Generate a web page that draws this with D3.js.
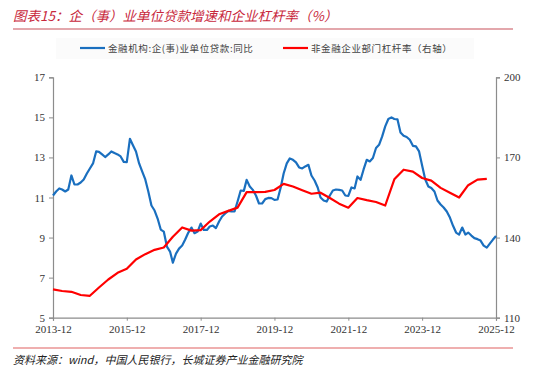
<!DOCTYPE html>
<html>
<head>
<meta charset="utf-8">
<script src="https://cdn.jsdelivr.net/npm/d3@7"></script>
<style>
  body { margin: 0; background: #fff; }
  svg { display: block; }
</style>
</head>
<body>
<div id="chart"></div>
<script>
// data
var startYear = 2013, startMonth = 12;   // first point 2013-12
var loanGrowth = [ // 金融机构:企(事)业单位贷款:同比, monthly
  11.1, 11.3, 11.45, 11.4, 11.3, 11.4, 12.1, 11.65, 11.65, 11.75, 11.9, 12.2,
  12.45, 12.7, 13.3, 13.28, 13.15, 13.02, 13.15, 13.3, 13.22, 13.15, 13.05, 12.78,
  12.77, 13.93, 13.6, 13.3, 12.7, 12.3, 11.9, 11.3, 10.6, 10.35, 9.95, 9.4,
  9.3, 8.55, 8.3, 7.75, 8.2, 8.45, 8.6, 8.9, 9.25, 9.5, 9.22, 9.3,
  9.7, 9.38, 9.38, 9.55, 9.6, 9.47, 9.8, 10.05, 10.2, 10.33, 10.3, 10.3,
  10.8, 11.35, 11.33, 11.88, 11.55, 11.38, 11.1, 10.7, 10.7, 10.92, 10.98, 10.97,
  10.88, 10.9, 11.5, 12.2, 12.7, 12.95, 12.88, 12.75, 12.5, 12.45, 12.55, 12.63,
  12.1, 11.85, 11.5, 11.0, 10.85, 10.8, 11.1, 11.35, 11.4, 11.38, 11.35, 11.1,
  11.08, 11.5, 11.45, 12.05, 11.88, 12.4, 12.88, 12.8, 12.97, 13.47, 13.63, 14.05,
  14.55, 14.92, 15.0, 14.92, 14.9, 14.25, 14.08, 14.02, 13.88, 13.58, 13.55, 13.3,
  12.6, 11.9, 11.55, 11.47, 11.3, 10.85, 10.65, 10.5, 10.3, 10.0, 9.6, 9.25,
  9.15, 9.5, 9.15, 9.25, 9.1, 8.97, 8.92, 8.85, 8.6, 8.5, 8.7, 8.9,
  9.08
];
var leverage = [ // 非金融企业部门杠杆率（右轴）, quarterly
  120.6, 120.0, 119.7, 118.5, 118.2, 121.3, 124.3, 126.8,
  128.3, 131.8, 133.8, 135.4, 136.3, 140.3, 143.8, 142.6,
  142.8, 146.0, 148.7, 150.0, 151.2, 157.0, 157.0, 157.1,
  157.8, 160.1, 159.1, 157.7, 156.4, 156.8, 154.8, 152.7,
  151.2, 154.8, 154.0, 153.3, 152.0, 161.8, 165.4, 164.7,
  162.3, 161.3, 158.6, 156.8, 155.0, 159.6, 161.7, 162.0
];
var leftTicks = [5, 7, 9, 11, 13, 15, 17];
var rightTicks = [110, 140, 170, 200];
var xTickYears = [2013, 2015, 2017, 2019, 2021, 2023, 2025];

var W = 550, H = 377;
var plot = {left: 53, right: 496, top: 77.3, bottom: 317.7};
var axisColor = "#8c8c8c";
var serif = "'Liberation Serif', 'DejaVu Serif', serif";
var cjk = "'Noto Sans CJK SC', sans-serif";

function monthDate(i) { return new Date(startYear, startMonth - 1 + i, 1); }

var svg = d3.select("#chart").append("svg")
  .attr("width", W).attr("height", H);

// title
svg.append("text")
  .attr("x", 13).attr("y", 21)
  .style("font-family", cjk).style("font-size", "13.5px")
  .style("font-style", "italic")
  .attr("fill", "#c8283c")
  .text("图表15：企（事）业单位贷款增速和企业杠杆率（%）");
svg.append("line")
  .attr("x1", 13).attr("x2", 513).attr("y1", 29).attr("y2", 29)
  .attr("stroke", "#c8505a").attr("stroke-width", 1.2);

// scales
var x = d3.scaleTime()
  .domain([monthDate(0), new Date(2025, 11, 1)])
  .range([plot.left, plot.right]);
var y = d3.scaleLinear().domain([5, 17]).range([plot.bottom, plot.top]);
var y2 = d3.scaleLinear().domain([110, 200]).range([plot.bottom, plot.top]);

// axes
var gL = svg.append("g").attr("transform", "translate(" + plot.left + ",0)")
  .call(d3.axisLeft(y).tickValues(leftTicks).tickSize(4).tickPadding(4));
var gR = svg.append("g").attr("transform", "translate(" + plot.right + ",0)")
  .call(d3.axisRight(y2).tickValues(rightTicks).tickSize(4).tickPadding(4));
var gB = svg.append("g").attr("transform", "translate(0," + plot.bottom + ")")
  .call(d3.axisBottom(x)
    .tickValues(xTickYears.map(function(yy) { return new Date(yy, 11, 1); }))
    .tickFormat(d3.timeFormat("%Y-%m")).tickSize(3).tickPadding(2));

[gL, gR, gB].forEach(function(g) {
  g.selectAll("path").attr("stroke", axisColor).attr("stroke-width", 1.2);
  g.selectAll("line").attr("stroke", axisColor);
  g.selectAll("text")
    .style("font-family", serif).style("font-size", "11px")
    .attr("fill", "#333");
});
gB.selectAll("text").attr("dy", "0.95em");

// lines
var blueLine = d3.line()
  .x(function(d, i) { return x(monthDate(i)); })
  .y(function(d) { return y(d); });
var redLine = d3.line()
  .x(function(d, i) { return x(monthDate(i * 3)); })
  .y(function(d) { return y2(d); });

svg.append("path").datum(loanGrowth)
  .attr("d", blueLine).attr("fill", "none")
  .attr("stroke", "#1a6fbf").attr("stroke-width", 2.2)
  .attr("stroke-linejoin", "round");
svg.append("path").datum(leverage)
  .attr("d", redLine).attr("fill", "none")
  .attr("stroke", "#ff0000").attr("stroke-width", 2.2)
  .attr("stroke-linejoin", "round");

// legend
svg.append("rect")
  .attr("x", 56).attr("y", 38).attr("width", 418).attr("height", 21)
  .attr("fill", "#fbfbfb");
var legend = [
  {name: "金融机构:企(事)业单位贷款:同比", color: "#1a6fbf", x: 80},
  {name: "非金融企业部门杠杆率（右轴）", color: "#ff0000", x: 283}
];
legend.forEach(function(l) {
  svg.append("line")
    .attr("x1", l.x).attr("x2", l.x + 25).attr("y1", 48).attr("y2", 48)
    .attr("stroke", l.color).attr("stroke-width", 2.2);
  svg.append("text")
    .attr("x", l.x + 28).attr("y", 51.5)
    .style("font-family", cjk).style("font-size", "9.5px")
    .style("letter-spacing", "0.6px")
    .attr("fill", "#444")
    .text(l.name);
});

// source
svg.append("line")
  .attr("x1", 13).attr("x2", 513).attr("y1", 348).attr("y2", 348)
  .attr("stroke", "#e06060").attr("stroke-width", 1.2);
svg.append("text")
  .attr("x", 13).attr("y", 364)
  .style("font-family", cjk).style("font-size", "11px")
  .style("font-style", "italic")
  .attr("fill", "#222")
  .text("资料来源：wind，中国人民银行，长城证券产业金融研究院");
</script>
</body>
</html>
